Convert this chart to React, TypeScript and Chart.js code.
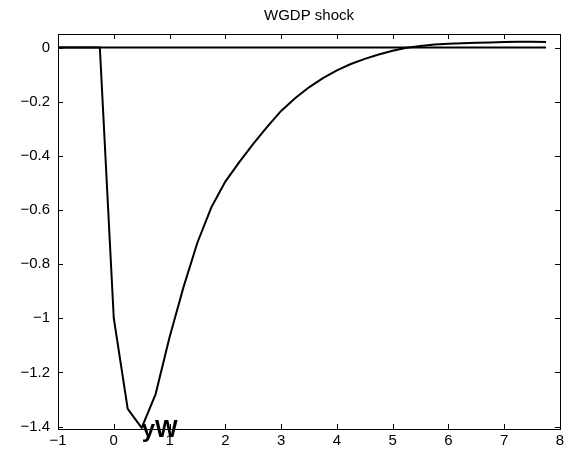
import React, { useEffect, useRef } from "react";
import { Chart, registerables } from "chart.js";

Chart.register(...registerables);

const TITLE = "WGDP shock";

const X_VALUES = [
  -1, -0.75, -0.5, -0.25, 0, 0.25, 0.5, 0.75, 1, 1.25, 1.5, 1.75, 2, 2.25, 2.5, 2.75,
  3, 3.25, 3.5, 3.75, 4, 4.25, 4.5, 4.75, 5, 5.25, 5.5, 5.75, 6, 6.25, 6.5, 6.75,
  7, 7.25, 7.5, 7.75,
];
const RESPONSE = [
  0, 0, 0, 0, -1.0, -1.335, -1.405, -1.28, -1.07, -0.885, -0.72, -0.59, -0.495, -0.423, -0.356, -0.293,
  -0.234, -0.187, -0.147, -0.113, -0.084, -0.061, -0.042, -0.026, -0.012, -0.001, 0.006, 0.011, 0.014, 0.016, 0.018, 0.019,
  0.02, 0.021, 0.021, 0.02,
];
const ZERO_LINE_X = [-1, 7.75];
const ZERO_LINE_Y = [0, 0];

const X_TICKS = [-1, 0, 1, 2, 3, 4, 5, 6, 7, 8];
const Y_TICKS = [0, -0.2, -0.4, -0.6, -0.8, -1, -1.2, -1.4];
const X_MIN = -1;
const X_MAX = 8;
const Y_MIN = -1.409;
const Y_MAX = 0.05;

const ANNOTATION = "yW";
const ANNOTATION_X = 0.5;
const ANNOTATION_Y = -1.405;

const FONT_FAMILY = "'Liberation Sans', Arial, Helvetica, sans-serif";

const fmt = (v: number) => (v < 0 ? "\u2212" + String(Math.abs(v)) : String(v));

const framePlugin = {
  id: "frame",
  afterDraw(chart: any) {
    const { ctx, chartArea, scales } = chart;
    const { left, right, top, bottom } = chartArea;
    const xs = scales.x;
    const ys = scales.y;
    ctx.save();
    ctx.strokeStyle = "#000";
    ctx.lineWidth = 1;
    ctx.strokeRect(left + 0.5, top + 0.5, right - left, bottom - top);
    const tl = 5;
    ctx.beginPath();
    X_TICKS.forEach((v) => {
      const px = Math.round(xs.getPixelForValue(v)) + 0.5;
      ctx.moveTo(px, bottom);
      ctx.lineTo(px, bottom - tl);
      ctx.moveTo(px, top);
      ctx.lineTo(px, top + tl);
    });
    Y_TICKS.forEach((v) => {
      const py = Math.round(ys.getPixelForValue(v)) + 0.5;
      ctx.moveTo(left, py);
      ctx.lineTo(left + tl, py);
      ctx.moveTo(right, py);
      ctx.lineTo(right - tl, py);
    });
    ctx.stroke();

    // title
    ctx.fillStyle = "#000";
    ctx.font = `15px ${FONT_FAMILY}`;
    ctx.textAlign = "center";
    ctx.textBaseline = "alphabetic";
    ctx.fillText(TITLE, (left + right) / 2, 20);

    // annotation
    ctx.font = `bold 24px ${FONT_FAMILY}`;
    ctx.textAlign = "left";
    ctx.fillText(ANNOTATION, xs.getPixelForValue(ANNOTATION_X), ys.getPixelForValue(ANNOTATION_Y) + 9);
    ctx.restore();
  },
};

export default function App() {
  const ref = useRef<HTMLCanvasElement | null>(null);

  useEffect(() => {
    if (!ref.current) return;
    const font = { family: FONT_FAMILY, size: 15 };
    const chart = new Chart(ref.current, {
      type: "scatter",
      data: {
        datasets: [
          {
            data: ZERO_LINE_X.map((x, i) => ({ x, y: ZERO_LINE_Y[i] })),
            showLine: true,
            borderColor: "#000",
            borderWidth: 2,
            pointRadius: 0,
            tension: 0,
          },
          {
            data: X_VALUES.map((x, i) => ({ x, y: RESPONSE[i] })),
            showLine: true,
            borderColor: "#000",
            borderWidth: 2,
            pointRadius: 0,
            tension: 0,
          },
        ],
      },
      options: {
        animation: false,
        responsive: false,
        devicePixelRatio: 1,
        layout: { padding: { top: 34, right: 11, left: 0, bottom: 0 } },
        plugins: { legend: { display: false }, tooltip: { enabled: false }, title: { display: false } },
        scales: {
          x: {
            type: "linear",
            min: X_MIN,
            max: X_MAX,
            grid: { display: false, drawTicks: false },
            border: { display: false },
            afterBuildTicks: (s: any) => {
              s.ticks = X_TICKS.map((v) => ({ value: v }));
            },
            afterFit: (s: any) => {
              s.height = 32;
            },
            ticks: {
              font,
              color: "#000",
              padding: 3,
              maxRotation: 0,
              autoSkip: false,
              callback: (v: any) => fmt(Number(v)),
            },
          },
          y: {
            type: "linear",
            min: Y_MIN,
            max: Y_MAX,
            grid: { display: false, drawTicks: false },
            border: { display: false },
            afterBuildTicks: (s: any) => {
              s.ticks = Y_TICKS.map((v) => ({ value: v }));
            },
            afterFit: (s: any) => {
              s.width = 58;
            },
            ticks: {
              font,
              color: "#000",
              padding: 8,
              autoSkip: false,
              callback: (v: any) => fmt(Number(v)),
            },
          },
        },
      } as any,
      plugins: [framePlugin],
    });
    return () => chart.destroy();
  }, []);

  return (
    <div style={{ position: "absolute", left: 0, top: 0, width: 571, height: 461, background: "#fff" }}>
      <canvas ref={ref} width={571} height={461} style={{ display: "block" }} />
    </div>
  );
}
